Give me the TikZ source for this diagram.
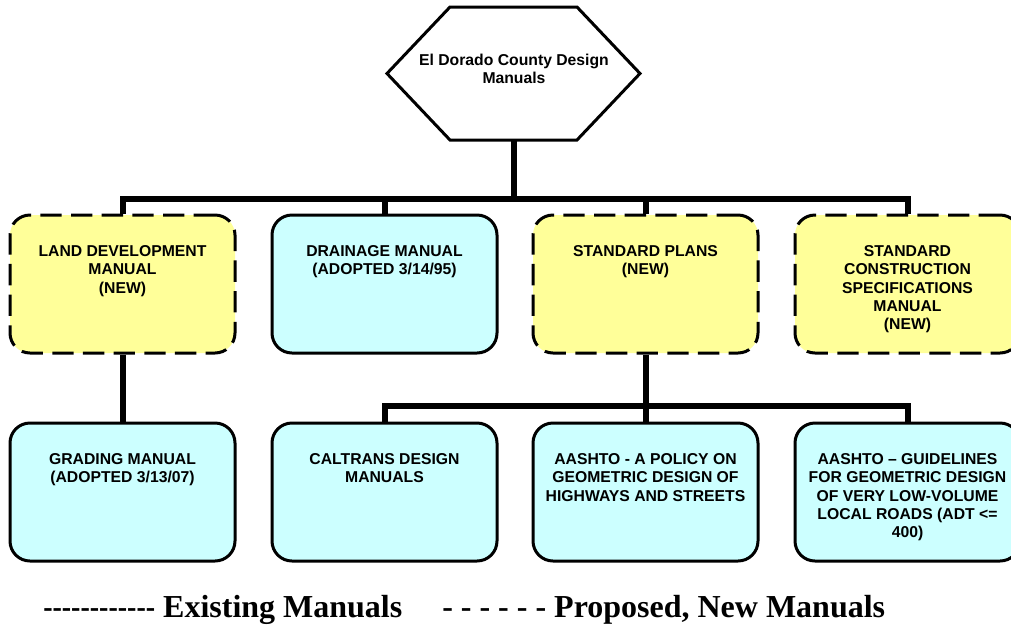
\documentclass[tikz,border=0pt]{standalone}
\usepackage{fontspec}
\usepackage{graphicx}
\setmainfont{Liberation Serif}
\newfontfamily\arialfont{Liberation Sans}
\usetikzlibrary{calc}
\definecolor{newfill}{HTML}{FFFF99}
\definecolor{oldfill}{HTML}{CCFFFF}
\newcommand\hy{\mbox{-}}
\begin{document}
\begin{tikzpicture}[x=0.75pt,y=-0.75pt,
  conn/.style={line width=4.5pt},
  boxbase/.style={minimum width=168.75pt, minimum height=103.5pt, inner sep=0pt, rounded corners=15pt, line width=2.25pt},
  oldbox/.style={boxbase, draw=black, fill=oldfill},
  newbox/.style={boxbase, draw=black, fill=newfill, dash pattern=on 16pt off 7pt},
  lbl/.style={anchor=north, align=center, inner sep=0pt, font=\arialfont\bfseries\fontsize{11.8}{13.8}\selectfont},
  hexline/.style={line width=2.25pt, line join=miter},
  legend/.style={anchor=base west, inner sep=0pt, font=\bfseries\fontsize{24}{28}\selectfont}]
\useasboundingbox (0,0) rectangle (1011,626);
\clip (0,0) rectangle (1011,626);
\fill[white] (0,0) rectangle (1011,626);

% top hexagon
\draw[hexline] (387,73.5) -- (450,7) -- (577,7) -- (640,73.5) -- (577,140) -- (450,140) -- cycle;
\coordinate (hexbot) at (513.5,140);
\node[lbl] (hext) at (514,52.1) {\strut El Dorado County Design\\Manuals};

% bus coordinates
\coordinate (bus1) at (513.5,199);
\coordinate (bus2) at (645.5,406);

% row 1 boxes
\node[newbox] (b1) at (122.5,284) {};
\node[oldbox] (b2) at (384.5,284) {};
\node[newbox] (b3) at (645.5,284) {};
\node[newbox] (b4) at (907.5,284) {};

% row 2 boxes
\node[oldbox] (g1) at (122.5,492) {};
\node[oldbox] (g2) at (384.5,492) {};
\node[oldbox] (g3) at (645.5,492) {};
\node[oldbox] (g4) at (907.5,492) {};

% connectors
\draw[conn] (hexbot) -- (bus1);
\draw[conn] (b1.north) -- (b1.north |- bus1) -- (b4.north |- bus1) -- (b4.north);
\draw[conn] (b2.north) -- (b2.north |- bus1);
\draw[conn] (b3.north) -- (b3.north |- bus1);
\draw[conn] (b1.south) -- (g1.north);
\draw[conn] (b3.south) -- (bus2);
\draw[conn] (g2.north) -- (g2.north |- bus2) -- (g4.north |- bus2) -- (g4.north);
\draw[conn] (g3.north) -- (g3.north |- bus2);

% labels row 1
\node[lbl] (b1t) at (122.5,243.1) {\strut LAND DEVELOPMENT\\MANUAL\\(NEW)};
\node[lbl] (b2t) at (384.5,243.1) {\strut DRAINAGE MANUAL\\(ADOPTED 3/14/95)};
\node[lbl] (b3t) at (645.5,243.1) {\strut STANDARD PLANS\\(NEW)};
\node[lbl] (b4t) at (907.5,243.1) {\strut STANDARD\\CONSTRUCTION\\SPECIFICATIONS\\MANUAL\\(NEW)};

% labels row 2
\node[lbl] (g1t) at (122.5,451.1) {\strut GRADING MANUAL\\(ADOPTED 3/13/07)};
\node[lbl] (g2t) at (384.5,451.1) {\strut CALTRANS DESIGN\\MANUALS};
\node[lbl] (g3t) at (645.5,451.1) {\strut AASHTO - A POLICY ON\\GEOMETRIC DESIGN OF\\HIGHWAYS AND STREETS};
\node[lbl] (g4t) at (907.5,451.1) {\strut AASHTO – GUIDELINES\\FOR GEOMETRIC DESIGN\\OF VERY LOW-VOLUME\\LOCAL ROADS (ADT <=\\400)};

% legend
\node[legend] (leg1) at (43,617) {\scalebox{0.875}[1]{\hy\hy\hy\hy\hy\hy\hy\hy\hy\hy\hy\hy} Existing Manuals};
\node[legend] (leg2) at (442,617) {- - - - - - Proposed, New Manuals};
\end{tikzpicture}
\end{document}
